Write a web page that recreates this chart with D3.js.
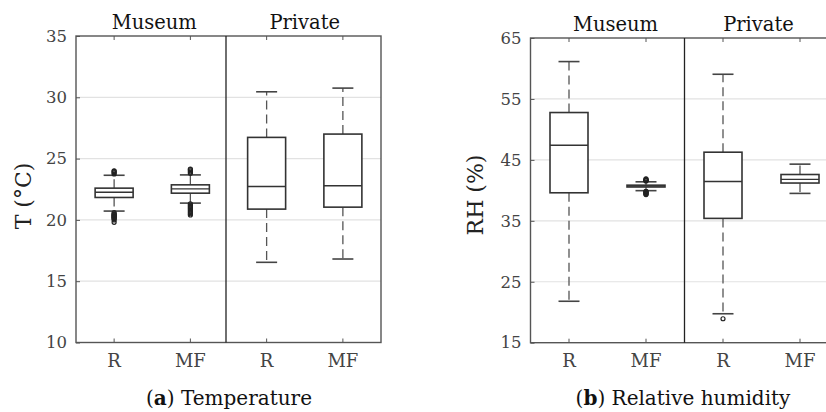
<!DOCTYPE html>
<html>
<head>
<meta charset="utf-8">
<script src="https://cdn.jsdelivr.net/npm/d3@7/dist/d3.min.js"></script>
<style>
  html, body { margin: 0; padding: 0; background: #fff; }
  svg { display: block; }
</style>
</head>
<body>
<svg id="chart" width="826" height="412"></svg>
<script>
// ---------- data ----------
const boxKeys = ["Museum R", "Museum MF", "Private R", "Private MF"];
const boxLabels = ["R", "MF", "R", "MF"];
const groupNames = ["Museum", "Private"];

const tempTicks = [10, 15, 20, 25, 30, 35];
const tempWhiskerLow  = [20.72, 21.37, 16.54, 16.81];
const tempQ1          = [21.83, 22.18, 20.88, 21.04];
const tempMedian      = [22.26, 22.53, 22.72, 22.78];
const tempQ3          = [22.59, 22.86, 26.73, 27.00];
const tempWhiskerHigh = [23.64, 23.67, 30.45, 30.75];
const tempOutliers = [
  [23.75, 23.85, 23.95, 24.0, 20.6, 20.5, 20.45, 20.4, 20.35, 20.3, 20.25, 20.2, 20.15, 20.1, 20.0, 19.8],
  [23.8, 23.9, 24.0, 24.1, 24.15, 21.3, 21.2, 21.1, 21.0, 20.9, 20.8, 20.7, 20.6, 20.5, 20.4],
  [],
  []
];

const rhTicks = [15, 25, 35, 45, 55, 65];
const rhWhiskerLow  = [21.8, 39.95, 19.75, 39.5];
const rhQ1          = [39.6, 40.55, 35.4, 41.2];
const rhMedian      = [47.4, 40.7, 41.46, 41.8];
const rhQ3          = [52.77, 40.85, 46.26, 42.6];
const rhWhiskerHigh = [61.13, 41.4, 59.05, 44.3];
const rhOutliers = [
  [],
  [41.55, 41.6, 41.65, 41.7, 41.8, 41.9, 39.85, 39.8, 39.7, 39.6, 39.5, 39.4, 39.3],
  [18.93],
  []
];

// ---------- drawing ----------
const svg = d3.select("#chart");
const FONT = "'DejaVu Serif', serif";

function panel(opts) {
  const { left, right, top, bottom, domain, ticks, stats, yTitle, yTitleX, yTitleY, caption, captionLetter, captionX, titleShift } = opts;
  const g = svg.append("g");
  const x = d3.scaleBand().domain(boxKeys).range([left, right]).padding(0);
  const y = d3.scaleLinear().domain(domain).range([bottom, top]);
  const cx = k => x(k) + x.bandwidth() / 2;

  // grid
  g.append("g").selectAll("line")
    .data(ticks.slice(1, -1))
    .join("line")
    .attr("x1", left).attr("x2", right)
    .attr("y1", d => y(d)).attr("y2", d => y(d))
    .attr("stroke", "#e2e2e2").attr("stroke-width", 1.2);

  // y axis
  const ya = g.append("g").attr("transform", `translate(${left},0)`)
    .call(d3.axisLeft(y).tickValues(ticks).tickSizeInner(-4).tickSizeOuter(0).tickPadding(9));
  ya.select(".domain").remove();
  ya.selectAll(".tick line").attr("stroke", "#555");
  ya.selectAll(".tick text").attr("font-family", FONT).attr("font-size", 16.5).attr("fill", "#444");

  // x axis bottom
  const xa = g.append("g").attr("transform", `translate(0,${bottom})`)
    .call(d3.axisBottom(x).tickSizeInner(-4).tickSizeOuter(0).tickPadding(12)
      .tickFormat((d, i) => boxLabels[i]));
  xa.select(".domain").remove();
  xa.selectAll(".tick line").attr("stroke", "#555");
  xa.selectAll(".tick text").attr("font-family", FONT).attr("font-size", 18).attr("fill", "#444");

  // x ticks top
  const xt = g.append("g").attr("transform", `translate(0,${top})`)
    .call(d3.axisTop(x).tickSizeInner(-4).tickSizeOuter(0).tickFormat(""));
  xt.select(".domain").remove();
  xt.selectAll(".tick line").attr("stroke", "#555");

  // frame
  g.append("rect").attr("x", left).attr("y", top)
    .attr("width", right - left).attr("height", bottom - top)
    .attr("fill", "none").attr("stroke", "#555").attr("stroke-width", 1.4);

  // divider
  const divX = x(boxKeys[2]) + (opts.divShift || 0);
  g.append("line").attr("x1", divX).attr("x2", divX).attr("y1", top).attr("y2", bottom)
    .attr("stroke", "#222").attr("stroke-width", 1.3);

  // group titles
  groupNames.forEach((name, i) => {
    const c = (cx(boxKeys[2 * i]) + cx(boxKeys[2 * i + 1])) / 2 + (titleShift ? titleShift[i] : 0);
    g.append("text").attr("x", c).attr("y", top - 7)
      .attr("text-anchor", "middle").attr("font-family", FONT).attr("font-size", 19.5)
      .attr("fill", "#111").text(name);
  });

  const bw = 38, capW = 21;
  const boxes = g.append("g").selectAll("g").data(boxKeys).join("g");

  // whiskers (dashed)
  boxes.append("line")
    .attr("x1", cx).attr("x2", cx)
    .attr("y1", (d, i) => y(stats.q3[i])).attr("y2", (d, i) => y(stats.hi[i]))
    .attr("stroke", "#555").attr("stroke-width", 1.3).attr("stroke-dasharray", "9,5");
  boxes.append("line")
    .attr("x1", cx).attr("x2", cx)
    .attr("y1", (d, i) => y(stats.q1[i])).attr("y2", (d, i) => y(stats.lo[i]))
    .attr("stroke", "#555").attr("stroke-width", 1.3).attr("stroke-dasharray", "9,5");
  // caps
  boxes.append("line")
    .attr("x1", d => cx(d) - capW / 2).attr("x2", d => cx(d) + capW / 2)
    .attr("y1", (d, i) => y(stats.hi[i])).attr("y2", (d, i) => y(stats.hi[i]))
    .attr("stroke", "#444").attr("stroke-width", 1.6);
  boxes.append("line")
    .attr("x1", d => cx(d) - capW / 2).attr("x2", d => cx(d) + capW / 2)
    .attr("y1", (d, i) => y(stats.lo[i])).attr("y2", (d, i) => y(stats.lo[i]))
    .attr("stroke", "#444").attr("stroke-width", 1.6);
  // box
  boxes.append("rect")
    .attr("x", d => cx(d) - bw / 2).attr("width", bw)
    .attr("y", (d, i) => y(stats.q3[i]))
    .attr("height", (d, i) => y(stats.q1[i]) - y(stats.q3[i]))
    .attr("fill", "#fff").attr("stroke", "#333").attr("stroke-width", 1.6);
  // median
  boxes.append("line")
    .attr("x1", d => cx(d) - bw / 2).attr("x2", d => cx(d) + bw / 2)
    .attr("y1", (d, i) => y(stats.med[i])).attr("y2", (d, i) => y(stats.med[i]))
    .attr("stroke", "#333").attr("stroke-width", 1.4);
  // outliers
  boxes.each(function (d, i) {
    d3.select(this).selectAll("circle").data(stats.out[i]).join("circle")
      .attr("cx", cx(d)).attr("cy", v => y(v)).attr("r", 2)
      .attr("fill", "none").attr("stroke", "#222").attr("stroke-width", 1.2);
  });

  // y title
  g.append("text")
    .attr("transform", `translate(${yTitleX},${yTitleY}) rotate(-90)`)
    .attr("text-anchor", "middle").attr("font-family", FONT).attr("font-size", 22)
    .attr("fill", "#222").text(yTitle);

  // caption
  const cap = g.append("text").attr("x", captionX).attr("y", 405)
    .attr("text-anchor", "middle").attr("font-family", FONT).attr("font-size", 20).attr("fill", "#111");
  cap.append("tspan").text("(");
  cap.append("tspan").attr("font-weight", "bold").text(captionLetter);
  cap.append("tspan").text(") " + caption);
}

panel({
  left: 76, right: 381, top: 36, bottom: 342.5,
  domain: [10, 35], ticks: tempTicks,
  stats: { lo: tempWhiskerLow, q1: tempQ1, med: tempMedian, q3: tempQ3, hi: tempWhiskerHigh, out: tempOutliers },
  yTitle: "T (°C)", yTitleX: 31, yTitleY: 196, caption: "Temperature", captionLetter: "a", captionX: 229,
  divShift: -2.5, titleShift: [2, 0]
});

panel({
  left: 530.5, right: 838.5, top: 38, bottom: 342.7,
  domain: [15, 65], ticks: rhTicks,
  stats: { lo: rhWhiskerLow, q1: rhQ1, med: rhMedian, q3: rhQ3, hi: rhWhiskerHigh, out: rhOutliers },
  yTitle: "RH (%)", yTitleX: 483, yTitleY: 195, caption: "Relative humidity", captionLetter: "b", captionX: 683,
  divShift: 0, titleShift: [8, -3]
});
</script>
</body>
</html>
